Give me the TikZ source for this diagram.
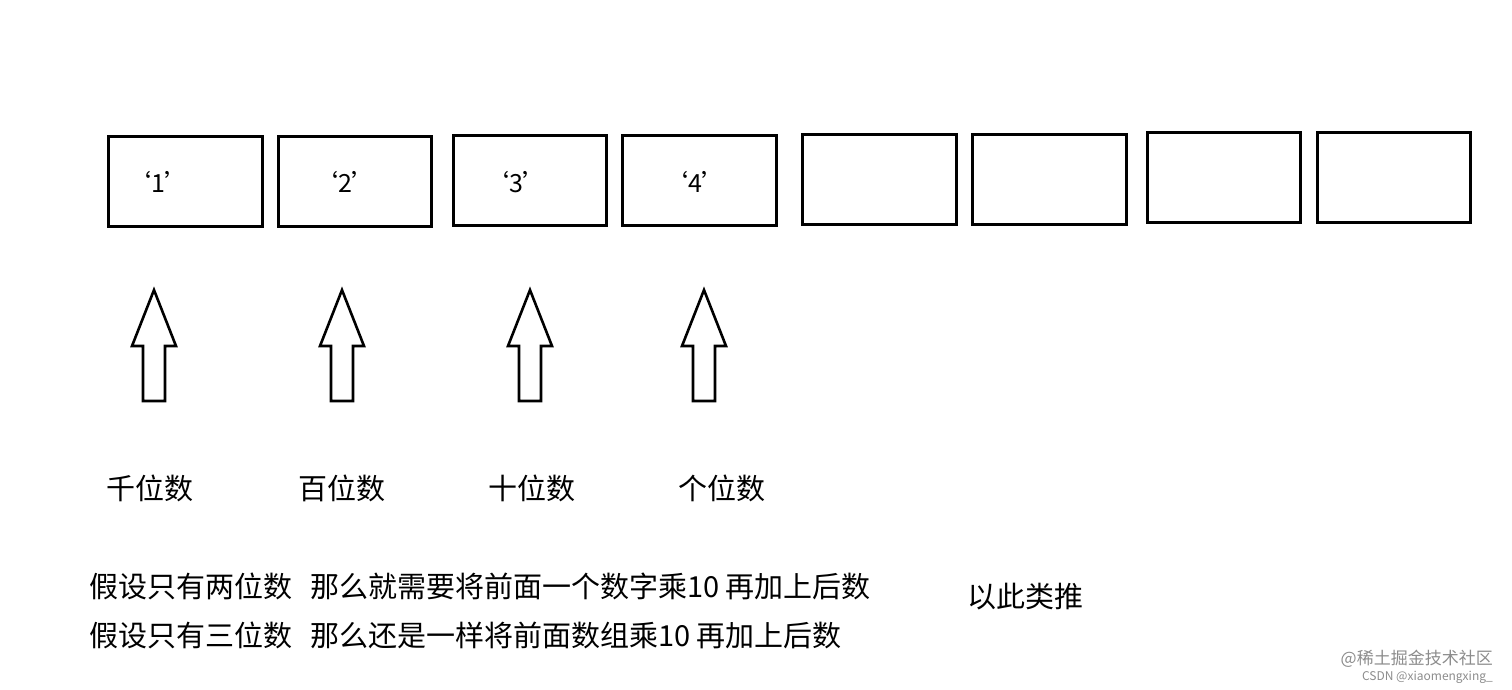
\documentclass[tikz,border=0pt]{standalone}
\usepackage{fontspec}
\setmainfont{Noto Sans CJK SC}
\begin{document}
\begin{tikzpicture}[x=1pt,y=-1pt,
  cell/.style={draw,line width=3pt},
  big/.style={font=\fontsize{29}{32}\selectfont,inner sep=0pt},
  blockarrow/.style={draw,line width=2.6pt,fill=white,line join=miter}]
\useasboundingbox (0,0) rectangle (1512,689);
\foreach \xa/\ya/\xb/\yb/\n in {108/136/262/226/b1,278/136/431/226/b2,453/135/606/225/b3,622/135/776/225/b4,802/134/956/224/b5,972/134/1126/224/b6,1147/132/1300/222/b7,1317/132/1470/222/b8}
  \draw[cell] (\xa,\yb) rectangle (\xb,\ya) coordinate (\n);
\node[big,font=\fontsize{25}{28}\selectfont] (d1) at (158,182) {‘1’};
\node[big,font=\fontsize{25}{28}\selectfont] (d2) at (345,182) {‘2’};
\node[big,font=\fontsize{25}{28}\selectfont] (d3) at (516,182) {‘3’};
\node[big,font=\fontsize{25}{28}\selectfont] (d4) at (695,182) {‘4’};
\foreach \c in {154,342,530,704}
  \draw[blockarrow] (\c,290) -- (\c+22,346) -- (\c+11,346) -- (\c+11,401) -- (\c-11,401) -- (\c-11,346) -- (\c-22,346) -- cycle;
\node[big] (l1) at (150,488) {千位数};
\node[big] (l2) at (342,488) {百位数};
\node[big] (l3) at (532,488) {十位数};
\node[big] (l4) at (722,488) {个位数};
\node[big,anchor=west] (t1) at (89,586) {假设只有两位数\hspace{18pt}那么就需要将前面一个数字乘10 再加上后数};
\node[big,anchor=west] (t2) at (89,635) {假设只有三位数\hspace{18pt}那么还是一样将前面数组乘10 再加上后数};
\node[big] (t3) at (1025,597) {以此类推};
\node[anchor=east,inner sep=0pt,text=black!45,font=\fontsize{17}{19}\selectfont] (w1) at (1493,659) {@稀土掘金技术社区};
\node[anchor=east,inner sep=0pt,text=black!45,font=\fontsize{12}{14}\selectfont] (w2) at (1493,677) {CSDN @xiaomengxing\_};
\end{tikzpicture}
\end{document}
